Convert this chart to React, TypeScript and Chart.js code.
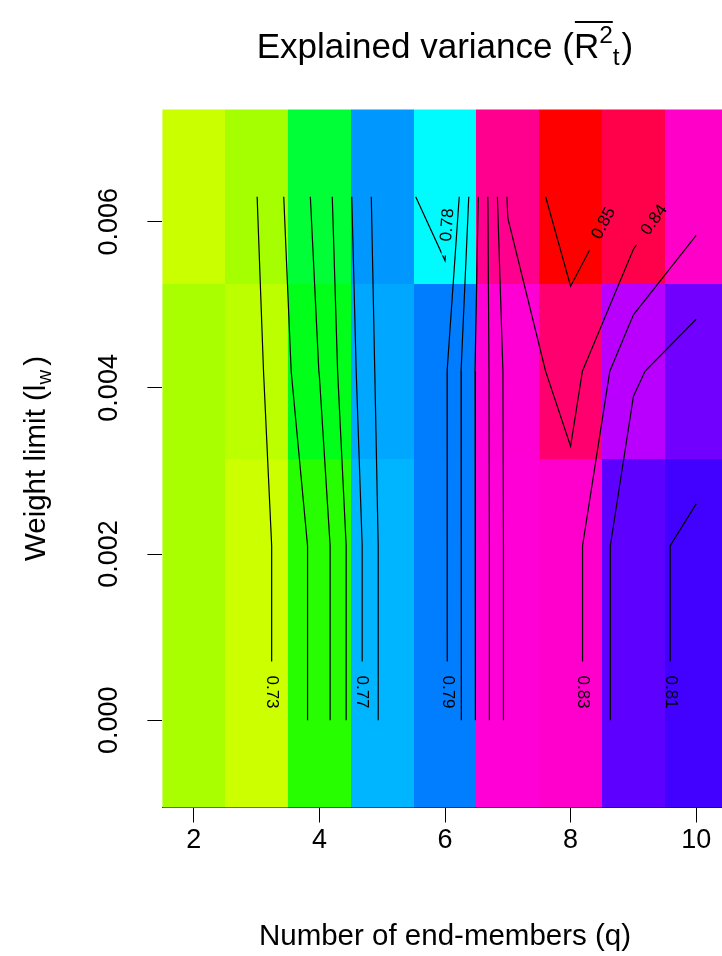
import React, { useEffect, useRef } from "react";
import { Chart, registerables } from "chart.js";

Chart.register(...registerables);

// ---------- data ----------
const qValues = [2, 3, 4, 5, 6, 7, 8, 9, 10];
const weightLimits = [0, 0.0021, 0.0042, 0.0063];
// explained variance per weight-limit row (bottom to top), one value per q
const varianceW0 = [0.7295, 0.7258, 0.7433, 0.7825, 0.7884, 0.8331, 0.8343, 0.8117, 0.8088];
const varianceW1 = [0.7295, 0.7258, 0.7433, 0.7825, 0.7884, 0.8331, 0.8343, 0.8117, 0.8088];
const varianceW2 = [0.7295, 0.7275, 0.7502, 0.784, 0.7885, 0.8335, 0.8443, 0.8214, 0.8138];
const varianceW3 = [0.726, 0.7298, 0.7534, 0.7856, 0.7751, 0.8409, 0.856, 0.848, 0.8346];
const contourLevels = [0.73, 0.74, 0.75, 0.76, 0.77, 0.78, 0.79, 0.8, 0.81, 0.82, 0.83, 0.84, 0.85];
const xTickValues = [2, 4, 6, 8, 10];
const yTickValues = [0, 0.002, 0.004, 0.006];
const yTickLabels = ["0.000", "0.002", "0.004", "0.006"];
// contour labels: level, weight value where the label sits, minimum q of the branch
const labelLevels = [0.73, 0.77, 0.79, 0.83, 0.81, 0.78, 0.85, 0.84];
const labelAtWeight = [0.00034, 0.00034, 0.00034, 0.00034, 0.00034, 0.00596, 0.00598, 0.00602];
const labelMinQ = [0, 0, 0, 8, 9, 6, 8, 9];

const FONT = '"Liberation Sans", Arial, Helvetica, sans-serif';

type Pt = { x: number; y: number };

function hsvColor(h: number): string {
  const hh = ((((h % 360) + 360) % 360) / 60);
  const i = Math.floor(hh);
  const f = hh - i;
  let r = 0, g = 0, b = 0;
  switch (i) {
    case 0: r = 1; g = f; b = 0; break;
    case 1: r = 1 - f; g = 1; b = 0; break;
    case 2: r = 0; g = 1; b = f; break;
    case 3: r = 0; g = 1 - f; b = 1; break;
    case 4: r = f; g = 0; b = 1; break;
    default: r = 1; g = 0; b = 1 - f;
  }
  return `rgb(${Math.round(r * 255)},${Math.round(g * 255)},${Math.round(b * 255)})`;
}

function buildContours(grid: number[][], xs: number[], ys: number[], level: number): Pt[][] {
  const segs: [Pt, Pt][] = [];
  const up = (v: number) => v >= level;
  const hPt = (j: number, i: number): Pt => {
    const a = grid[j][i], b = grid[j][i + 1];
    const t = (level - a) / (b - a);
    return { x: xs[i] + t * (xs[i + 1] - xs[i]), y: ys[j] };
  };
  const vPt = (j: number, i: number): Pt => {
    const a = grid[j][i], b = grid[j + 1][i];
    const t = (level - a) / (b - a);
    return { x: xs[i], y: ys[j] + t * (ys[j + 1] - ys[j]) };
  };
  for (let j = 0; j < ys.length - 1; j++) {
    for (let i = 0; i < xs.length - 1; i++) {
      const z00 = grid[j][i], z10 = grid[j][i + 1], z01 = grid[j + 1][i], z11 = grid[j + 1][i + 1];
      const pts: Pt[] = [];
      if (up(z00) !== up(z10)) pts.push(hPt(j, i));
      if (up(z10) !== up(z11)) pts.push(vPt(j, i + 1));
      if (up(z01) !== up(z11)) pts.push(hPt(j + 1, i));
      if (up(z00) !== up(z01)) pts.push(vPt(j, i));
      if (pts.length === 2) segs.push([pts[0], pts[1]]);
      else if (pts.length === 4) {
        const c = (z00 + z10 + z01 + z11) / 4;
        if (up(c) === up(z00)) { segs.push([pts[0], pts[1]]); segs.push([pts[2], pts[3]]); }
        else { segs.push([pts[0], pts[3]]); segs.push([pts[1], pts[2]]); }
      }
    }
  }
  const key = (p: Pt) => p.x.toFixed(9) + "," + p.y.toFixed(9);
  const adj = new Map<string, number[]>();
  segs.forEach((s, idx) => {
    for (const p of s) {
      const k = key(p);
      if (!adj.has(k)) adj.set(k, []);
      adj.get(k)!.push(idx);
    }
  });
  const used = segs.map(() => false);
  const grow = (chain: Pt[]) => {
    for (;;) {
      const last = chain[chain.length - 1];
      const k = key(last);
      const cand = (adj.get(k) || []).filter((c) => !used[c]);
      if (!cand.length) break;
      const c = cand[0];
      used[c] = true;
      const [a, b] = segs[c];
      chain.push(key(a) === k ? b : a);
    }
  };
  const lines: Pt[][] = [];
  for (let s = 0; s < segs.length; s++) {
    if (used[s]) continue;
    used[s] = true;
    const chain = [segs[s][0], segs[s][1]];
    grow(chain);
    chain.reverse();
    grow(chain);
    lines.push(chain);
  }
  return lines;
}

export default function App() {
  const ref = useRef<HTMLCanvasElement | null>(null);

  useEffect(() => {
    const canvas = ref.current;
    if (!canvas) return;
    const grid = [varianceW0, varianceW1, varianceW2, varianceW3];
    const all = grid.flat();
    const zMin = Math.min(...all);
    const zMax = Math.max(...all);
    const colorFor = (z: number) => hsvColor(72 + ((z - zMin) / (zMax - zMin)) * 288);

    const contourSets: { level: number; pts: Pt[] }[] = [];
    contourLevels.forEach((lv) => {
      buildContours(grid, qValues, weightLimits, lv).forEach((pts) => contourSets.push({ level: lv, pts }));
    });

    const bounds = (vals: number[]) => {
      const b: number[] = [];
      b.push(vals[0] - (vals[1] - vals[0]) / 2);
      for (let i = 0; i < vals.length - 1; i++) b.push((vals[i] + vals[i + 1]) / 2);
      b.push(vals[vals.length - 1] + (vals[vals.length - 1] - vals[vals.length - 2]) / 2);
      return b;
    };
    const xb = bounds(qValues);
    const yb = bounds(weightLimits);

    const labelFont = `17px ${FONT}`;

    const computeLabels = (chart: any) => {
      const xs = chart.scales.x, ys = chart.scales.y;
      const ctx = chart.ctx as CanvasRenderingContext2D;
      ctx.save();
      ctx.font = labelFont;
      const out: { text: string; px: number; py: number; ang: number; w: number }[] = [];
      labelLevels.forEach((lv, li) => {
        const yv = labelAtWeight[li];
        let found: any = null;
        for (const cs of contourSets) {
          if (Math.abs(cs.level - lv) > 1e-9 || found) continue;
          for (let k = 0; k < cs.pts.length - 1; k++) {
            const a = cs.pts[k], b = cs.pts[k + 1];
            if ((a.y - yv) * (b.y - yv) <= 0 && a.y !== b.y) {
              const t = (yv - a.y) / (b.y - a.y);
              const x = a.x + t * (b.x - a.x);
              if (x >= labelMinQ[li]) { found = { x, a, b }; break; }
            }
          }
        }
        if (!found) return;
        const px = xs.getPixelForValue(found.x);
        const py = ys.getPixelForValue(yv);
        const dx = xs.getPixelForValue(found.b.x) - xs.getPixelForValue(found.a.x);
        const dy = ys.getPixelForValue(found.b.y) - ys.getPixelForValue(found.a.y);
        let ang = Math.abs(dx) < 1e-6 ? Math.PI / 2 : Math.atan2(dy, dx);
        if (ang > Math.PI / 2) ang -= Math.PI;
        if (ang <= -Math.PI / 2) ang += Math.PI;
        const text = lv.toFixed(2);
        out.push({ text, px, py, ang, w: ctx.measureText(text).width });
      });
      ctx.restore();
      return out;
    };

    const plugin = {
      id: "r2heat",
      beforeDatasetsDraw(chart: any) {
        const ctx = chart.ctx as CanvasRenderingContext2D;
        const xs = chart.scales.x, ys = chart.scales.y;
        const area = chart.chartArea;
        ctx.save();
        ctx.beginPath();
        ctx.rect(area.left, area.top, area.right - area.left, area.bottom - area.top);
        ctx.clip();
        for (let j = 0; j < weightLimits.length; j++) {
          for (let i = 0; i < qValues.length; i++) {
            const x0 = Math.round(xs.getPixelForValue(xb[i]));
            const x1 = Math.round(xs.getPixelForValue(xb[i + 1]));
            const y0 = Math.round(ys.getPixelForValue(yb[j + 1]));
            const y1 = Math.round(ys.getPixelForValue(yb[j]));
            ctx.fillStyle = colorFor(grid[j][i]);
            ctx.fillRect(x0, y0, x1 - x0, y1 - y0);
          }
        }
        ctx.restore();
        // clip label gaps out of the contour lines
        const labels = computeLabels(chart);
        (chart as any)._r2labels = labels;
        ctx.save();
        ctx.beginPath();
        ctx.rect(0, 0, chart.width, chart.height);
        labels.forEach((l) => {
          const hl = l.w / 2 + 14, hh = 4;
          const c = Math.cos(l.ang), s = Math.sin(l.ang);
          const corners = [[-hl, -hh], [hl, -hh], [hl, hh], [-hl, hh]].map(([u, v]) => [l.px + u * c - v * s, l.py + u * s + v * c]);
          ctx.moveTo(corners[0][0], corners[0][1]);
          for (let k = 1; k < 4; k++) ctx.lineTo(corners[k][0], corners[k][1]);
          ctx.closePath();
        });
        ctx.clip("evenodd");
      },
      afterDatasetsDraw(chart: any) {
        const ctx = chart.ctx as CanvasRenderingContext2D;
        ctx.restore();
        const labels = (chart as any)._r2labels || [];
        ctx.save();
        ctx.font = labelFont;
        ctx.fillStyle = "#000";
        ctx.textAlign = "center";
        ctx.textBaseline = "middle";
        labels.forEach((l: any) => {
          ctx.save();
          ctx.translate(l.px, l.py);
          ctx.rotate(l.ang);
          ctx.fillText(l.text, 0, 0);
          ctx.restore();
        });
        ctx.restore();
      },
      afterDraw(chart: any) {
        const ctx = chart.ctx as CanvasRenderingContext2D;
        const ys = chart.scales.y;
        const area = chart.chartArea;
        ctx.save();
        ctx.fillStyle = "#000";
        // y tick labels (parallel to axis)
        ctx.font = `27px ${FONT}`;
        ctx.textAlign = "center";
        ctx.textBaseline = "alphabetic";
        yTickValues.forEach((v, i) => {
          const py = ys.getPixelForValue(v);
          ctx.save();
          ctx.translate(117, py);
          ctx.rotate(-Math.PI / 2);
          ctx.fillText(yTickLabels[i], 0, 0);
          ctx.restore();
        });
        // y axis title with subscript
        {
          const big = `29.5px ${FONT}`, small = `20.5px ${FONT}`;
          ctx.font = big;
          const p1 = "Weight limit (l";
          const w1 = ctx.measureText(p1).width;
          const p3 = ")";
          const w3 = ctx.measureText(p3).width;
          ctx.font = small;
          const w2 = ctx.measureText("w").width;
          const total = w1 + w2 + 4 + w3;
          const cy = (area.top + area.bottom) / 2;
          ctx.save();
          ctx.translate(45, cy);
          ctx.rotate(-Math.PI / 2);
          ctx.textAlign = "left";
          let x = -total / 2;
          ctx.font = big;
          ctx.fillText(p1, x, 0);
          x += w1;
          ctx.font = small;
          ctx.fillText("w", x, 6);
          x += w2 + 4;
          ctx.font = big;
          ctx.fillText(p3, x, 0);
          ctx.restore();
        }
        // main title with overline, superscript and subscript
        {
          const big = `35px ${FONT}`, small = `24.5px ${FONT}`;
          ctx.font = big;
          const pA = "Explained variance (";
          const wA = ctx.measureText(pA).width;
          const wR = ctx.measureText("R").width;
          const wC = ctx.measureText(")").width;
          ctx.font = small;
          const w2 = ctx.measureText("2").width;
          const wt = ctx.measureText("t").width;
          const total = wA + wR + w2 + wt + 2 + wC;
          const cx = (area.left + area.right) / 2;
          const base = 58;
          let x = cx - total / 2;
          ctx.textAlign = "left";
          ctx.textBaseline = "alphabetic";
          ctx.font = big;
          ctx.fillText(pA, x, base);
          x += wA;
          const rStart = x;
          ctx.fillText("R", x, base);
          x += wR;
          ctx.font = small;
          ctx.fillText("2", x, base - 15);
          x += w2;
          const barEnd = x;
          ctx.fillText("t", x, base + 7);
          x += wt + 2;
          ctx.font = big;
          ctx.fillText(")", x, base);
          ctx.fillRect(rStart + 1, base - 37, barEnd - rStart - 1, 2);
        }
        ctx.restore();
      },
    };

    const datasets = contourSets.map((cs) => ({
      data: cs.pts,
      showLine: true,
      borderColor: "#000",
      borderWidth: 1.2,
      pointRadius: 0,
      pointHoverRadius: 0,
      tension: 0,
      fill: false,
    }));

    const chart = new Chart(canvas, {
      type: "scatter",
      data: { datasets },
      options: {
        responsive: false,
        animation: false,
        devicePixelRatio: 1,
        events: [],
        layout: { padding: { left: 0, right: 740 - 727.6, top: 109.5, bottom: 0 } },
        plugins: { legend: { display: false }, tooltip: { enabled: false }, title: { display: false } },
        scales: {
          x: {
            type: "linear",
            min: 1.5,
            max: 10.5,
            z: 1,
            afterBuildTicks: (s: any) => { s.ticks = xTickValues.map((v) => ({ value: v })); },
            afterFit: (s: any) => { s.height = 956 - 807.5; },
            ticks: { autoSkip: false, maxRotation: 0, minRotation: 0, color: "#000", padding: 2, font: { family: FONT, size: 27 } },
            grid: { display: true, drawOnChartArea: false, drawTicks: true, tickLength: 15, color: "#000", lineWidth: 1 },
            border: { display: true, color: "#000", width: 1 },
            title: { display: true, text: "Number of end-members (q)", color: "#000", font: { family: FONT, size: 29.5 }, padding: { top: 0, bottom: 1 } },
          },
          y: {
            type: "linear",
            min: -0.00105,
            max: 0.00735,
            z: 1,
            afterBuildTicks: (s: any) => { s.ticks = yTickValues.map((v) => ({ value: v })); },
            afterFit: (s: any) => { s.width = 162.4; },
            ticks: { display: false },
            grid: { display: true, drawOnChartArea: false, drawTicks: true, tickLength: 15, color: "#000", lineWidth: 1 },
            border: { display: false },
          },
        },
      },
      plugins: [plugin],
    } as any);

    return () => chart.destroy();
  }, []);

  return (
    <div style={{ position: "fixed", left: 0, top: 0, width: 722, height: 956, overflow: "hidden", background: "#fff" }}>
      <canvas ref={ref} width={740} height={956} style={{ display: "block", width: 740, height: 956 }} />
    </div>
  );
}
